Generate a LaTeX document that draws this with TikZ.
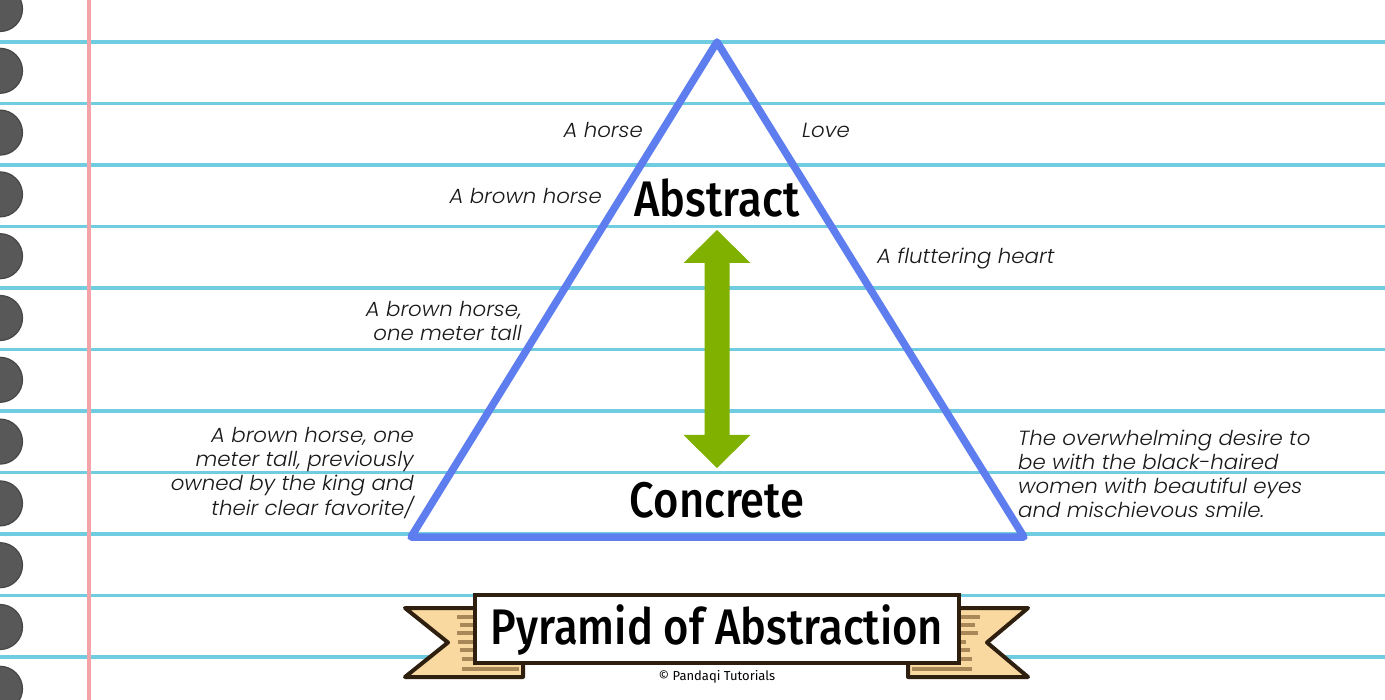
\documentclass[tikz,border=0pt]{standalone}
\usepackage{fontspec}
\newfontfamily\headfont{Fira Sans Medium}[FakeStretch=0.87]
\newfontfamily\labfont{Poppins Light Italic}[FakeStretch=1.04]
\newfontfamily\copyfont{Fira Sans}
\definecolor{ruled}{RGB}{112,204,224}
\definecolor{margin}{RGB}{244,163,168}
\definecolor{hole}{RGB}{88,88,88}
\definecolor{holeedge}{RGB}{70,70,70}
\definecolor{pyr}{RGB}{94,126,240}
\definecolor{arrowgreen}{RGB}{128,176,0}
\definecolor{ribbon}{RGB}{250,217,161}
\definecolor{ribbonedge}{RGB}{46,31,15}
\definecolor{stripe}{RGB}{168,136,88}
\tikzset{
  rule/.style={draw=ruled, line width=3.2pt},
  holestyle/.style={fill=hole, draw=holeedge, line width=1.2pt},
  lab/.style={font=\labfont\fontsize{20.5}{24}\selectfont, text=black!90, inner sep=0pt},
  headlab/.style={font=\headfont\fontsize{50}{56}\selectfont, text=black, inner sep=0pt},
  stripestyle/.style={draw=stripe, line width=3.5pt},
  tailstyle/.style={fill=ribbon, draw=ribbonedge, line width=4pt, line join=round},
}
\begin{document}
\begin{tikzpicture}[x=1pt,y=-1pt]
\useasboundingbox (0,0) rectangle (1385,700);
\clip (0,0) rectangle (1385,700);
\fill[white] (0,0) rectangle (1385,700);
% ruled lines
\foreach \k in {0,...,10} {
  \draw[rule] (0,{42+61.5*\k}) -- (1385,{42+61.5*\k});
}
% margin line
\draw[draw=margin, line width=3.5pt] (89,0) -- (89,700);
% binder holes
\foreach \k in {0,...,11} {
  \path[holestyle] (0,{9+61.8*\k}) circle[radius=22.5];
}
% pyramid
\coordinate (apex) at (717,42);
\coordinate (bl) at (411,537);
\coordinate (br) at (1024,537);
\draw[draw=pyr, line width=7.5pt, line join=round] (apex) -- (bl) -- (br) -- cycle;
% green double arrow
\fill[arrowgreen] (717,230) -- (750.5,263) -- (729.5,263) -- (729.5,435) -- (750.5,435)
  -- (717,468) -- (683.5,435) -- (704.5,435) -- (704.5,263) -- (683.5,263) -- cycle;
% main labels
\node[headlab] (abstract) at (717,198) {Abstract};
\node[headlab] (concrete) at (717,500) {Concrete};
% side labels
\node[lab, anchor=east] (horse) at (643,130) {A horse};
\node[lab, anchor=west] (love) at (802,130) {Love};
\node[lab, anchor=east] (brown) at (602,196) {A brown horse};
\node[lab, anchor=west] (heart) at (877,258) {A fluttering heart};
\node[lab, anchor=east, align=right] (meter) at (522,321) {A brown horse,\\one meter tall};
\node[lab, anchor=east, align=right] (king) at (414,473) {A brown horse, one\\meter tall, previously\\owned by the king and\\their clear favorite/};
\node[lab, anchor=west, align=left] (desire) at (1018,474) {The overwhelming desire to\\be with the black-haired\\women with beautiful eyes\\and mischievous smile.};
% ribbon tails
\path[tailstyle] (405,608) -- (448,642.5) -- (405,677) -- (523,677) -- (523,612) -- (480,608) -- cycle;
\path[tailstyle] (1028,608) -- (987,642.5) -- (1028,677) -- (908,677) -- (908,612) -- (950,608) -- cycle;
% stripes left
\draw[stripestyle] (457,617) -- (478,617);
\draw[stripestyle] (460,625) -- (478,625);
\draw[stripestyle] (457,633) -- (478,633);
\draw[stripestyle] (458,642) -- (478,642);
\draw[stripestyle] (460,650) -- (478,650);
\draw[stripestyle] (462,659) -- (478,659);
\draw[stripestyle] (462,669) -- (519,669);
% stripes right
\draw[stripestyle] (956,617) -- (980,617);
\draw[stripestyle] (956,625) -- (975,625);
\draw[stripestyle] (956,633) -- (978,633);
\draw[stripestyle] (956,642) -- (966,642);
\draw[stripestyle] (956,650) -- (970,650);
\draw[stripestyle] (956,659) -- (972,659);
\draw[stripestyle] (912,669) -- (972,669);
% banner box
\node[draw=ribbonedge, fill=white, line width=4pt, minimum width=484pt, minimum height=68pt, inner sep=0pt] (banner) at (717,629) {};
\node[font=\headfont\fontsize{50}{56}\selectfont, inner sep=0pt] (title) at (717,630) {Pyramid of Abstraction};
\node[font=\copyfont\fontsize{13}{15}\selectfont, inner sep=0pt] (copy) at (717,677) {© Pandaqi Tutorials};
\end{tikzpicture}
\end{document}
